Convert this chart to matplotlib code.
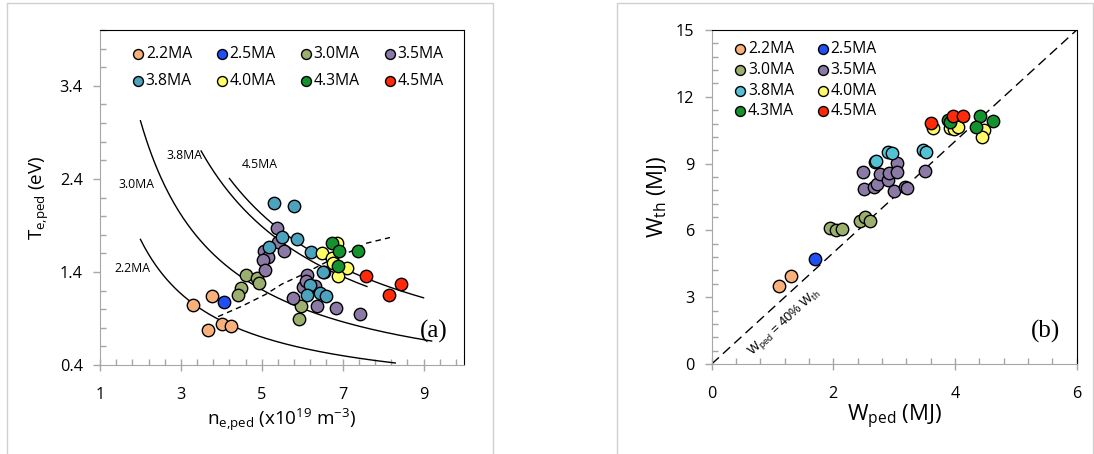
import numpy as np
import matplotlib.pyplot as plt
from matplotlib.lines import Line2D

plt.rcParams["font.family"] = ["Open Sans", "DejaVu Sans"]
plt.rcParams["mathtext.default"] = "regular"

labels = ["2.2MA", "2.5MA", "3.0MA", "3.5MA", "3.8MA", "4.0MA", "4.3MA", "4.5MA"]
colors_a = ["#F8B07C", "#2050F5", "#9BAF6F", "#8C7AA6", "#4BA3BD", "#FFFF66", "#12932E", "#FF2A0A"]
colors_b = ["#F8B07C", "#2050F5", "#9BAF6F", "#8C7AA6", "#52C2D4", "#FFFA6A", "#12932E", "#FF2A0A"]

# (a) pedestal density / temperature
ne_22 = [3.29, 3.78, 3.66, 4.02, 4.25]
te_22 = [1.04, 1.14, 0.78, 0.84, 0.82]
ne_25 = [4.07]
te_25 = [1.08]
ne_30 = [4.62, 4.89, 4.94, 4.48, 4.42, 5.97, 5.93]
te_30 = [1.37, 1.34, 1.28, 1.23, 1.15, 1.03, 0.89]
ne_35 = [5.37, 5.41, 5.55, 5.05, 5.16, 5.04, 5.07, 5.78, 6.11, 6.02, 6.31, 6.37, 6.83, 7.43, 6.55, 6.10]
te_35 = [1.87, 1.72, 1.63, 1.63, 1.56, 1.53, 1.42, 1.12, 1.37, 1.24, 1.25, 1.03, 1.01, 0.95, 1.40, 1.30]
ne_38 = [5.30, 5.80, 5.51, 5.18, 5.86, 6.21, 6.52, 6.19, 6.12, 6.44, 6.59]
te_38 = [2.14, 2.11, 1.78, 1.67, 1.75, 1.61, 1.40, 1.26, 1.15, 1.17, 1.14]
ne_40 = [6.48, 6.85, 6.73, 6.77, 7.10, 6.88]
te_40 = [1.60, 1.71, 1.55, 1.50, 1.44, 1.36]
ne_43 = [6.73, 6.91, 6.89, 7.37]
te_43 = [1.71, 1.63, 1.46, 1.63]
ne_45 = [7.58, 8.44, 8.15]
te_45 = [1.36, 1.27, 1.15]

# constant-pressure lines (p = n*T) and their n ranges
isobar_labels = ["2.2MA", "3.0MA", "3.8MA", "4.5MA"]
isobar_p = [3.5, 6.05, 9.45, 10.1]
isobar_nmin = [2.0, 2.0, 3.5, 4.2]
isobar_nmax = [8.3, 9.2, 7.6, 9.0]
isobar_text_n = [1.81, 1.91, 3.10, 4.96]
isobar_text_t = [1.44, 2.34, 2.65, 2.56]

# dashed trend line
trend_n = [3.92, 4.5, 5.1, 5.5, 5.95, 6.7, 7.2, 7.6, 8.17]
trend_t = [0.92, 1.03, 1.16, 1.27, 1.36, 1.53, 1.62, 1.71, 1.77]

# (b) stored energy
wped_22 = [1.10, 1.30]
wth_22 = [3.51, 3.93]
wped_25 = [1.69]
wth_25 = [4.71]
wped_30 = [1.95, 2.04, 2.14, 2.44, 2.52, 2.60]
wth_30 = [6.13, 6.02, 6.05, 6.43, 6.59, 6.43]
wped_35 = [2.49, 2.51, 2.67, 2.71, 2.77, 2.89, 2.91, 3.00, 3.04, 3.04, 3.18, 3.21, 3.50]
wth_35 = [8.64, 7.86, 7.93, 8.10, 8.55, 8.26, 8.56, 7.78, 9.03, 8.62, 7.93, 7.90, 8.68]
wped_38 = [2.68, 2.70, 2.89, 2.97, 3.47, 3.53]
wth_38 = [9.08, 9.12, 9.50, 9.46, 9.61, 9.51]
wped_40 = [3.64, 3.92, 3.99, 4.05, 4.47, 4.45]
wth_40 = [10.60, 10.60, 10.55, 10.66, 10.51, 10.20]
wped_43 = [3.89, 3.92, 4.41, 4.63, 4.35]
wth_43 = [10.96, 10.86, 11.15, 10.91, 10.63]
wped_45 = [3.60, 3.96, 4.13]
wth_45 = [10.81, 11.14, 11.14]
ratio_line = [0.0, 6.0]  # W_ped = 40% W_th

GRAY = "#A6A6A6"


def style_axes(ax):
    for side in ["left", "bottom"]:
        ax.spines[side].set_color(GRAY)
    for side in ["top", "right"]:
        ax.spines[side].set_color("black")
    ax.tick_params(which="major", direction="inout", length=9, width=1, color=GRAY, labelsize=11.7)
    ax.tick_params(which="minor", direction="in", length=4, width=1, color=GRAY)
    ax.tick_params(axis="y", which="major", direction="out", length=5, pad=7.5)
    ax.tick_params(axis="x", pad=11)


def row_legend(ax, ncol, **kw):
    # matplotlib fills legend columns first, reference reads row by row
    h, l = ax.get_legend_handles_labels()
    nrow = len(h) // ncol
    order = [r * ncol + c for c in range(ncol) for r in range(nrow)]
    ax.legend([h[i] for i in order], [l[i] for i in order], loc="upper left", ncol=ncol,
              frameon=False, fontsize=11.3, markerscale=0.8, handlelength=0.6,
              handletextpad=0.2, borderaxespad=0, **kw)


fig = plt.figure(figsize=(10.94, 4.54), dpi=100)

# panel frames
for x0, x1 in [(7, 493), (617, 1093)]:
    fx0, fx1 = x0 / 1094, x1 / 1094
    fy = 1 - 3 / 454
    fig.add_artist(Line2D([fx0, fx0, fx1, fx1], [0, fy, fy, 0], color="#D0D0D0", lw=1))

# ---- panel (a)
ax1 = fig.add_axes([100 / 1094, 89 / 454, 364 / 1094, 335 / 454])
ne_all = [ne_22, ne_25, ne_30, ne_35, ne_38, ne_40, ne_43, ne_45]
te_all = [te_22, te_25, te_30, te_35, te_38, te_40, te_43, te_45]

for p, n0, n1, tx, ty, lab in zip(isobar_p, isobar_nmin, isobar_nmax, isobar_text_n, isobar_text_t, isobar_labels):
    n = np.linspace(n0, n1, 200)
    ax1.plot(n, p / n, color="black", lw=1.0, zorder=2)
    ax1.text(tx, ty, lab, fontsize=8.8, ha="center", va="center")
ax1.plot(trend_n, trend_t, color="black", lw=1.0, ls=(0, (4, 3)), zorder=2)

for n, t, c, lab in zip(ne_all, te_all, colors_a, labels):
    ax1.scatter(n, t, s=80, color=c, edgecolors="black", linewidths=1, label=lab, zorder=3)

ax1.set_xlim(1, 10)
ax1.set_ylim(0.4, 4.0)
ax1.set_xticks([1, 3, 5, 7, 9])
ax1.set_xticks(np.arange(1, 10.01, 0.4), minor=True)
ax1.set_yticks([0.4, 1.4, 2.4, 3.4])
ax1.set_yticks(np.arange(0.4, 4.01, 0.2), minor=True)
style_axes(ax1)
ax1.set_xlabel(r"$n_{e{,}ped}$ (x10$^{19}$ m$^{-3}$)", fontsize=13.6, labelpad=3)
ax1.set_ylabel(r"$T_{e{,}ped}$ (eV)", fontsize=13.6, labelpad=6)
ax1.text(9.25, 0.76, "(a)", fontsize=18, family="Liberation Serif", ha="center", va="center")
row_legend(ax1, 4, bbox_to_anchor=(0.074, 0.97), columnspacing=1.6, labelspacing=0.7)

# ---- panel (b)
ax2 = fig.add_axes([711.7 / 1094, 90 / 454, 365 / 1094, 334 / 454])
wped_all = [wped_22, wped_25, wped_30, wped_35, wped_38, wped_40, wped_43, wped_45]
wth_all = [wth_22, wth_25, wth_30, wth_35, wth_38, wth_40, wth_43, wth_45]

ax2.plot(ratio_line, [w / 0.4 for w in ratio_line], color="black", lw=1.0, ls=(0, (7, 4)), zorder=2)
ax2.text(1.2, 1.86, r"$W_{ped}$ = 40% $W_{th}$", fontsize=9.3, family="Liberation Sans",
         rotation=42.5, rotation_mode="anchor", ha="center", va="center")

for w, t, c, lab in zip(wped_all, wth_all, colors_b, labels):
    ax2.scatter(w, t, s=80, color=c, edgecolors="black", linewidths=1, label=lab, zorder=3)

ax2.set_xlim(0, 6)
ax2.set_ylim(0, 15)
ax2.set_xticks([0, 2, 4, 6])
ax2.set_xticks(np.arange(0, 6.01, 0.4), minor=True)
ax2.set_yticks([0, 3, 6, 9, 12, 15])
ax2.set_yticks(np.arange(0, 15.01, 0.6), minor=True)
style_axes(ax2)
ax2.set_xlabel(r"$W_{ped}$ (MJ)", fontsize=16, labelpad=1)
ax2.set_ylabel(r"$W_{th}$ (MJ)", fontsize=16, labelpad=5)
ax2.text(5.48, 1.44, "(b)", fontsize=18, family="Liberation Serif", ha="center", va="center")
row_legend(ax2, 2, bbox_to_anchor=(0.048, 0.985), columnspacing=1.5, labelspacing=0.3)

fig.savefig("out.png", dpi=100)
